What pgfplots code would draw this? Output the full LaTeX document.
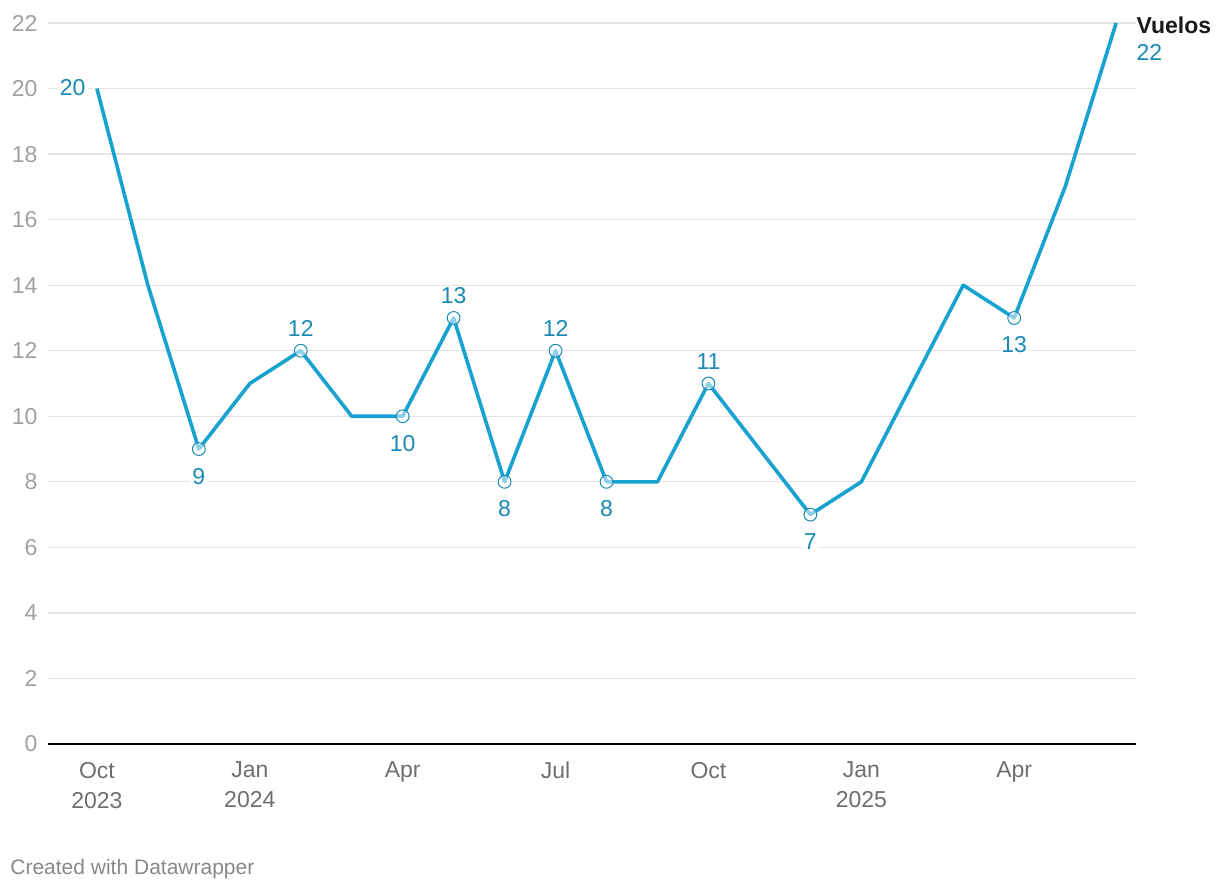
\documentclass[border=0pt]{standalone}
\usepackage{fontspec}
\setmainfont{Liberation Sans}
\usepackage{pgfplots}
\pgfplotsset{compat=1.18}
\definecolor{serie}{HTML}{18A2CF}
\definecolor{lab}{HTML}{1A8AB4}
\definecolor{gridc}{HTML}{E2E2E2}
\definecolor{ytl}{HTML}{A0A0A0}
\definecolor{xtl}{HTML}{6E6E6E}
\definecolor{foot}{HTML}{888888}
\begin{document}
\begin{tikzpicture}
\useasboundingbox (-24pt,-73pt) rectangle (586pt,372pt);
\begin{axis}[
  scale only axis, width=544pt, height=360.5pt,
  xmin=-0.96, xmax=20.39, ymin=0, ymax=22,
  clip=false,
  axis line style={draw=none},
  major tick length=0pt,
  ytick={0,2,...,22},
  ymajorgrids, grid style={gridc, line width=0.6pt},
  xtick={0,3,6,9,12,15,18},
  xticklabels={{Oct\\2023},{Jan\\2024},{Apr},{Jul},{Oct},{Jan\\2025},{Apr}},
  xticklabel style={align=center, font=\fontsize{11.5}{15}\selectfont, text=xtl, yshift=-5.5pt},
  yticklabel style={font=\fontsize{11.5}{14}\selectfont, text=ytl, xshift=-1.7pt},
  /pgf/number format/assume math mode=true,
]
\draw[black, line width=1pt] (rel axis cs:0,0) -- (rel axis cs:1,0);
\addplot[serie, line width=1.8pt, line join=round, mark=none] coordinates {
(0,20)(1,14)(2,9)(3,11)(4,12)(5,10)(6,10)(7,13)(8,8)(9,12)(10,8)(11,8)(12,11)(13,9)(14,7)(15,8)(16,11)(17,14)(18,13)(19,17)(20,22)};
\addplot[only marks, mark=*, mark size=3.2pt, mark options={draw=lab, fill=white, fill opacity=0.5, line width=0.5pt}] coordinates {
(2,9)(4,12)(6,10)(7,13)(8,8)(9,12)(10,8)(12,11)(14,7)(18,13)};
% labels above
\addplot[draw=none, mark=none, nodes near coords, point meta=explicit symbolic,
  nodes near coords style={anchor=base, yshift=7pt, text=lab, font=\fontsize{11.5}{14}\selectfont, fill=white, inner sep=1pt}]
  coordinates {(4,12)[12] (7,13)[13] (9,12)[12] (12,11)[11]};
% labels below
\addplot[draw=none, mark=none, nodes near coords, point meta=explicit symbolic,
  nodes near coords style={anchor=base, yshift=-17.5pt, text=lab, font=\fontsize{11.5}{14}\selectfont, fill=white, inner sep=1pt}]
  coordinates {(2,9)[9] (6,10)[10] (8,8)[8] (10,8)[8] (14,7)[7] (18,13)[13]};
% first label
\addplot[draw=none, mark=none, nodes near coords, point meta=explicit symbolic,
  nodes near coords style={anchor=base east, xshift=-4.5pt, yshift=-3.5pt, text=lab, font=\fontsize{11.5}{14}\selectfont, fill=white, inner sep=1pt}]
  coordinates {(0,20)[20]};
% last label
\addplot[draw=none, mark=none, nodes near coords, point meta=explicit symbolic,
  nodes near coords style={anchor=base west, xshift=10pt, yshift=-18.5pt, text=lab, font=\fontsize{11.5}{14}\selectfont, inner sep=0pt}]
  coordinates {(20,22)[22]};
\node[anchor=base west, inner sep=0pt, font=\fontsize{11.5}{14}\selectfont\bfseries, text=black!90] at ([xshift=10pt, yshift=-5pt]axis cs:20,22) {Vuelos};
\end{axis}
\node[anchor=base west, inner sep=0pt, font=\fontsize{10.5}{12}\selectfont, text=foot] at (-19pt,-65pt) {Created with Datawrapper};
\end{tikzpicture}
\end{document}
